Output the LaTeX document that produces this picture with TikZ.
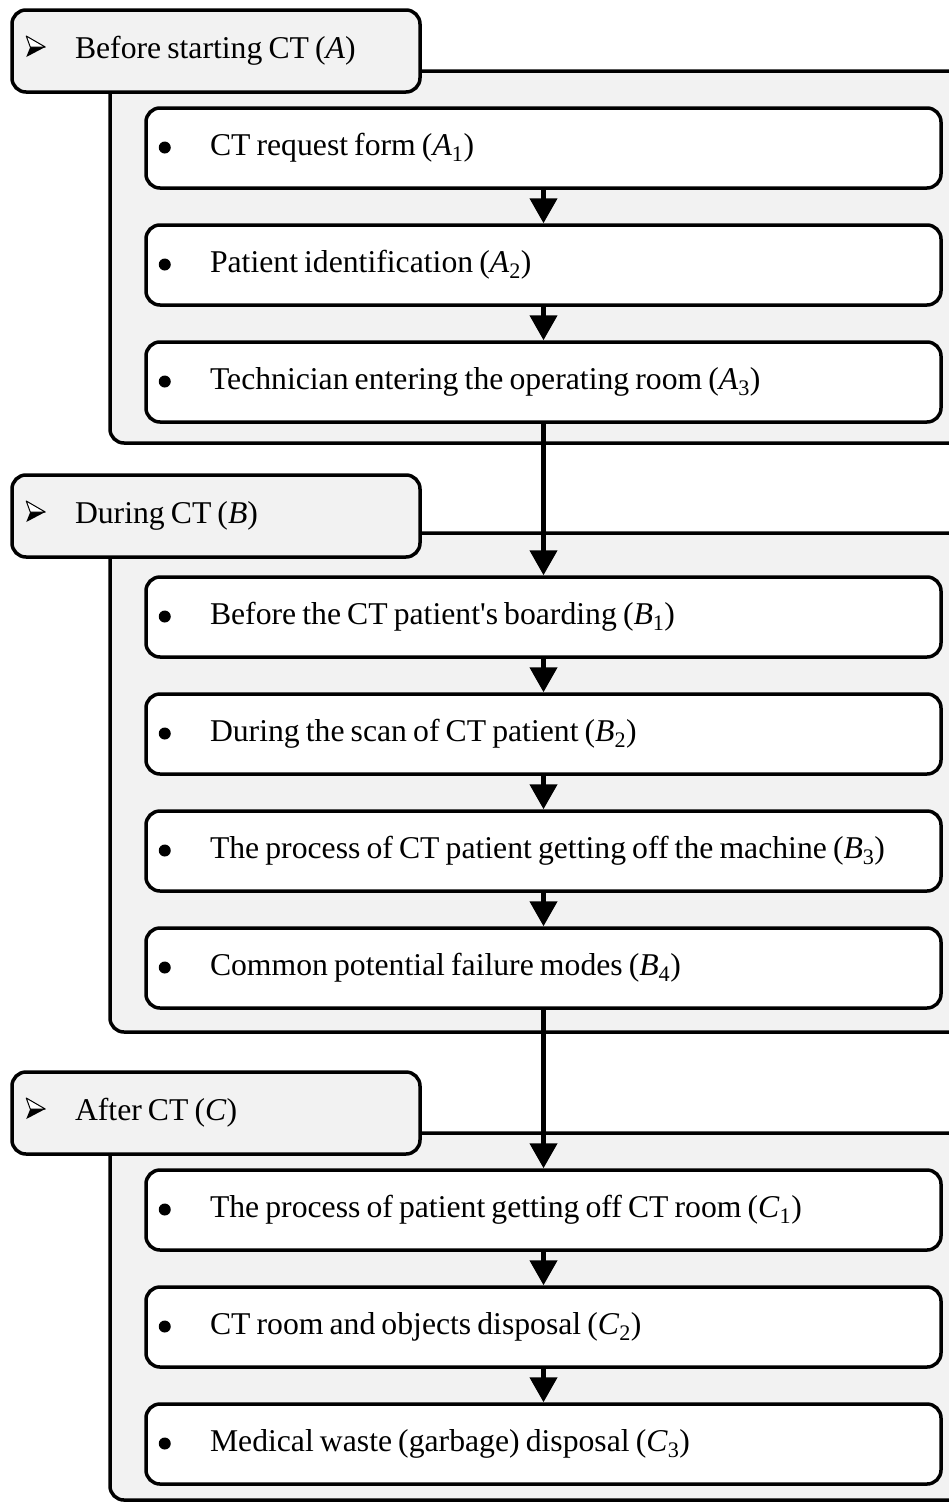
\documentclass[tikz,border=0pt]{standalone}
\usepackage{fontspec}
\setmainfont{Liberation Serif}
\usetikzlibrary{arrows.meta}
\definecolor{panel}{HTML}{F2F2F2}
\tikzset{
  txt/.style={font=\fontsize{31.7}{38}\selectfont},
  header/.style={txt, draw, line width=3.5pt, rounded corners=14pt, fill=panel,
    minimum width=408pt, minimum height=82pt, inner xsep=15pt, text width=378pt, align=left},
  groupbox/.style={draw, line width=3.5pt, rounded corners=14pt, fill=panel},
  item/.style={txt, draw, line width=3.5pt, rounded corners=14pt, fill=white,
    minimum width=795pt, minimum height=80pt, inner xsep=14pt, text width=767pt, align=left},
  arr/.style={line width=4.5pt, -{Triangle[length=25pt,width=27pt]}},
  dartline/.style={line width=1pt, line join=round, fill=white}
}
\newcommand{\hd}{\spaceskip=6.1pt\relax\hspace*{48pt}}
\newcommand{\bl}{\spaceskip=6.1pt\relax\hspace*{50pt}}
\begin{document}
\begin{tikzpicture}[x=1pt,y=-1pt]
\useasboundingbox (0,0) rectangle (949,1502);
\clip (0,0) rectangle (949,1502);
% groups
\path[groupbox] (110,71) rectangle (970,443);
\path[groupbox] (110,533) rectangle (970,1032);
\path[groupbox] (110,1133) rectangle (970,1500);
% headers
\node[header] (hA) at (216,51) {\hd Before starting CT (\textit{A})};
\node[header] (hB) at (216,516) {\hd During CT (\textit{B})};
\node[header] (hC) at (216,1113) {\hd After CT (\textit{C})};
\foreach \h in {hA,hB,hC}{
  \fill ([shift={(20,-4)}]\h.west) -- ([shift={(35,-4)}]\h.west) -- ([shift={(16,6)}]\h.west) -- cycle;
  \draw[dartline] ([shift={(20,-4)}]\h.west) -- ([shift={(16,-15)}]\h.west) -- ([shift={(35,-4)}]\h.west) -- cycle;
}
% items
\node[item] (A1) at (543.5,148) {\bl CT request form (\textit{A}\textsubscript{1})};
\node[item] (A2) at (543.5,265) {\bl Patient identification (\textit{A}\textsubscript{2})};
\node[item] (A3) at (543.5,382) {\bl Technician entering the operating room (\textit{A}\textsubscript{3})};
\node[item] (B1) at (543.5,617) {\bl Before the CT patient\textquotesingle s boarding (\textit{B}\textsubscript{1})};
\node[item] (B2) at (543.5,734) {\bl During the scan of CT patient (\textit{B}\textsubscript{2})};
\node[item] (B3) at (543.5,851) {\bl The process of CT patient getting off the machine (\textit{B}\textsubscript{3})};
\node[item] (B4) at (543.5,968) {\bl Common potential failure modes (\textit{B}\textsubscript{4})};
\node[item] (C1) at (543.5,1210) {\bl The process of patient getting off CT room (\textit{C}\textsubscript{1})};
\node[item] (C2) at (543.5,1327) {\bl CT room and objects disposal (\textit{C}\textsubscript{2})};
\node[item] (C3) at (543.5,1444) {\bl Medical waste (garbage) disposal (\textit{C}\textsubscript{3})};
\foreach \n in {A1,A2,A3,B1,B2,B3,B4,C1,C2,C3}{
  \fill ([shift={(20.5,-0.5)}]\n.west) circle (6pt);
}
% arrows
\draw[arr] (A1.south) -- (A2.north);
\draw[arr] (A2.south) -- (A3.north);
\draw[arr] (A3.south) -- (B1.north);
\draw[arr] (B1.south) -- (B2.north);
\draw[arr] (B2.south) -- (B3.north);
\draw[arr] (B3.south) -- (B4.north);
\draw[arr] (B4.south) -- (C1.north);
\draw[arr] (C1.south) -- (C2.north);
\draw[arr] (C2.south) -- (C3.north);
\end{tikzpicture}
\end{document}
